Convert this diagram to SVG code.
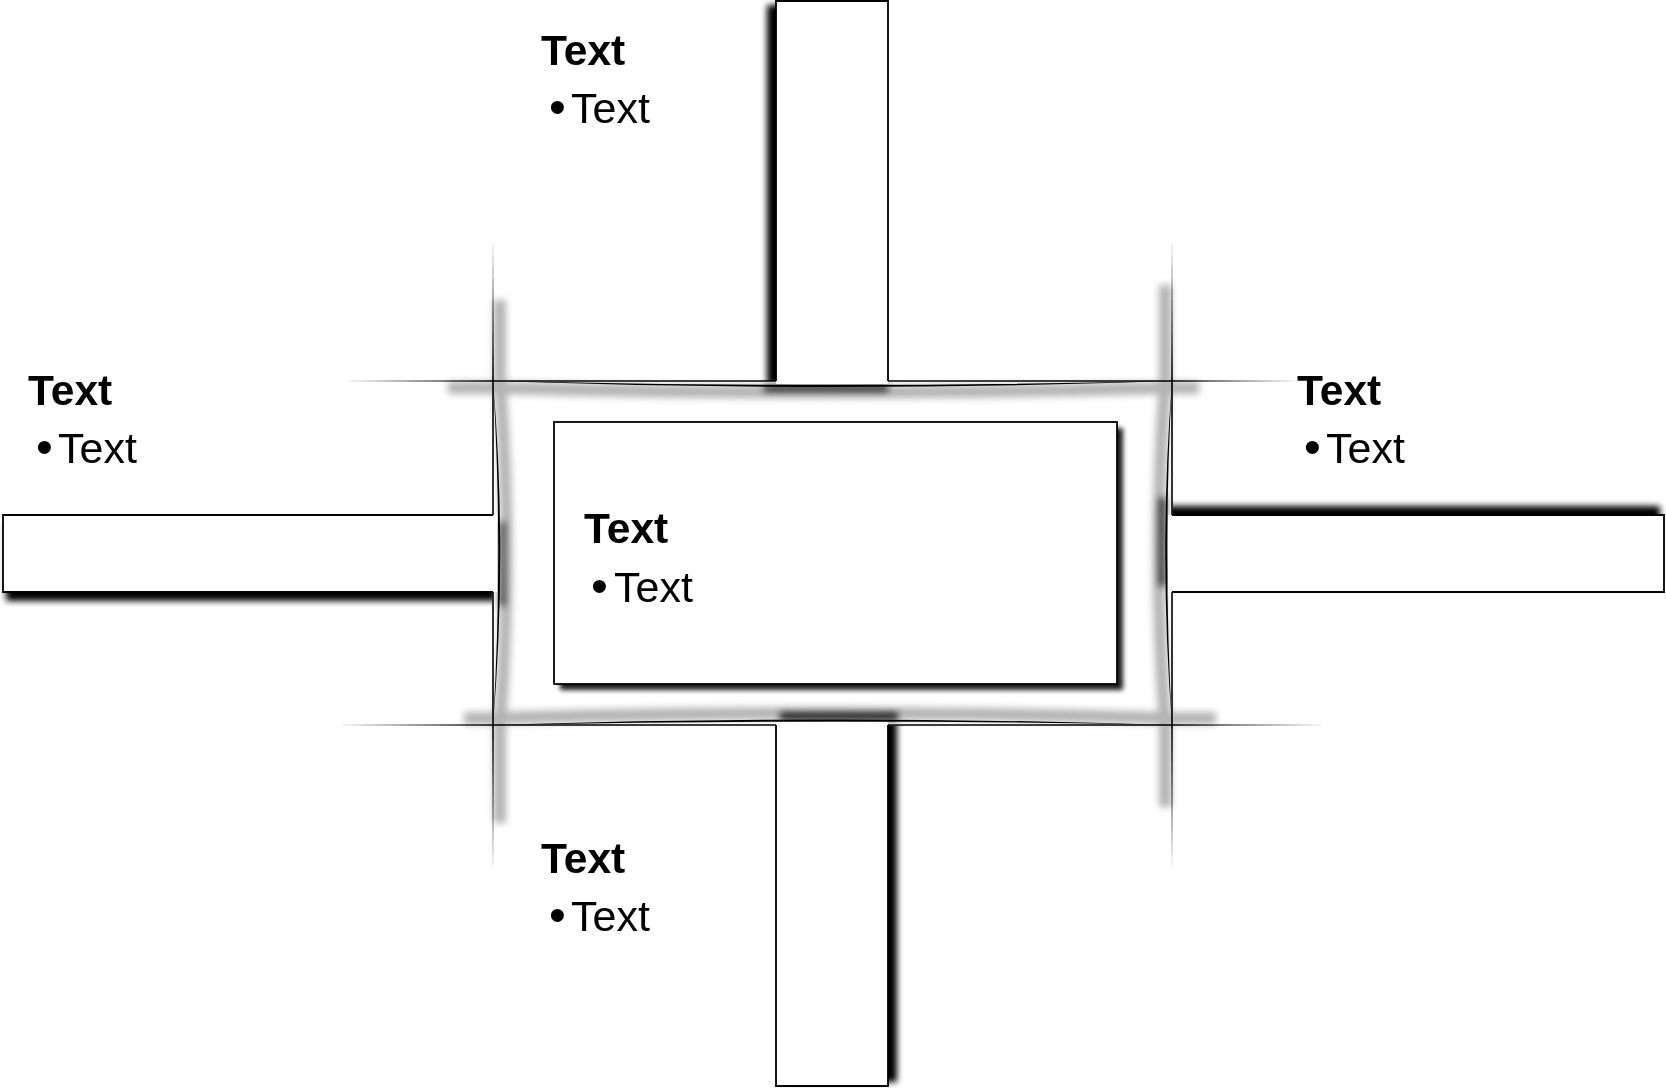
<svg xmlns="http://www.w3.org/2000/svg" width="1666" height="1088" viewBox="0 0 1666 1088">
<style>
.bar{fill:#fff;stroke:none}
.edge{fill:none;stroke:#000;stroke-width:1.8}
.ln{fill:#000}
.sh{fill:#000}
.glow{fill:none;stroke:#b4b4b4;stroke-width:16}
.h{font-family:"Liberation Sans",Arial,Helvetica,sans-serif;font-weight:bold;font-size:42.5px;fill:#000}
.t{font-family:"Liberation Sans",Arial,Helvetica,sans-serif;font-size:43px;fill:#000}
.bu{font-family:"Liberation Sans",Arial,Helvetica,sans-serif;font-size:48px;fill:#000}
</style>
<defs>
<filter id="b3" filterUnits="userSpaceOnUse" x="0" y="0" width="1666" height="1088"><feGaussianBlur stdDeviation="3.5"/></filter>
<filter id="b25" filterUnits="userSpaceOnUse" x="0" y="0" width="1666" height="1088"><feGaussianBlur stdDeviation="3"/></filter>
<filter id="b2" filterUnits="userSpaceOnUse" x="0" y="0" width="1666" height="1088"><feGaussianBlur stdDeviation="2.5"/></filter>
<clipPath id="cTop"><path d="M448,381.6 L493,381.6 Q832,390 1172,381.6 L1199,381.6 L1199,415 L448,415 Z"/></clipPath>
<clipPath id="cBot"><path d="M464,724.4 L493,724.4 Q832,714.5 1172,724.4 L1216,724.4 L1216,695 L464,695 Z"/></clipPath>
<clipPath id="cLeft"><path d="M493.6,300 L493.6,381 Q507.5,553 493.6,725 L493.6,823 L530,823 L530,300 Z"/></clipPath>
<clipPath id="cRight"><path d="M1171.4,285 L1171.4,381 Q1158.5,553 1171.4,725 L1171.4,807 L1135,807 L1135,285 Z"/></clipPath>
<clipPath id="oTop"><rect x="0" y="0" width="1666" height="381"/></clipPath>
<clipPath id="oBot"><rect x="0" y="725.6" width="1666" height="400"/></clipPath>
<clipPath id="oLeft"><rect x="0" y="0" width="492.4" height="1088"/></clipPath>
<clipPath id="oRight"><rect x="1172.6" y="0" width="500" height="1088"/></clipPath>
</defs>
<rect width="1666" height="1088" fill="#fff"/>

<g id="frame-shading">
<g filter="url(#b3)">
<path class="glow" clip-path="url(#cTop)" d="M448,386 L493,386 Q832,395 1172,386 L1199,386"/>
<path class="glow" clip-path="url(#cBot)" d="M464,720 L493,720 Q832,710 1172,720 L1216,720"/>
<path class="glow" clip-path="url(#cLeft)" d="M498,300 L498,381 Q511,553 498,725 L498,823"/>
<path class="glow" clip-path="url(#cRight)" d="M1167,285 L1167,381 Q1154,553 1167,725 L1167,807"/>
</g>
<g filter="url(#b3)">
<rect class="sh" clip-path="url(#cTop)" x="764" y="383" width="124" height="8"/>
<rect class="sh" clip-path="url(#cBot)" x="780" y="713" width="118" height="8"/>
<rect class="sh" clip-path="url(#cLeft)" x="495" y="522" width="10" height="84" opacity="0.8"/>
<rect class="sh" clip-path="url(#cRight)" x="1159" y="498" width="10" height="88" opacity="0.8"/>
</g>
</g>

<g id="frame">
<path class="ln" d="M342,381 L493,380.2 L1172,380.2 L1300,381 L1172,381.8 L493,381.8 Z"/>
<path class="ln" d="M335,725 L493,724.2 L1172,724.2 L1328,725 L1172,725.8 L493,725.8 Z"/>
<path class="ln" d="M493,239 L492.2,381 L492.2,725 L493,871 L493.8,725 L493.8,381 Z"/>
<path class="ln" d="M1172,239 L1171.2,381 L1171.2,725 L1172,871 L1172.8,725 L1172.8,381 Z"/>
</g>

<g id="node-top-bar">
<rect class="sh" filter="url(#b25)" clip-path="url(#oTop)" x="767" y="5" width="112" height="380"/>
<rect class="bar" x="776" y="1" width="112" height="383"/>
<path class="edge" d="M776,381 L776,1 L888,1 L888,381"/>
</g>
<g id="node-right-bar">
<rect class="sh" filter="url(#b25)" clip-path="url(#oRight)" x="1166" y="506" width="494" height="77"/>
<rect class="bar" x="1168" y="515" width="496" height="77"/>
<path class="edge" d="M1172,515 L1664,515 L1664,592 L1172,592"/>
</g>
<g id="node-bottom-bar">
<rect class="sh" filter="url(#b25)" clip-path="url(#oBot)" x="785" y="720" width="112" height="362"/>
<rect class="bar" x="776" y="722" width="112" height="364"/>
<path class="edge" d="M776,725 L776,1086 L888,1086 L888,725"/>
</g>
<g id="node-left-bar">
<rect class="sh" filter="url(#b25)" clip-path="url(#oLeft)" x="6" y="524" width="490" height="77"/>
<rect class="bar" x="3" y="515" width="494" height="77"/>
<path class="edge" d="M493,515 L3,515 L3,592 L493,592"/>
</g>

<g id="frame-curves">
<path class="ln" d="M493,381 Q832,389 1172,381 Q832,393 493,381 Z"/>
<path class="ln" d="M493,725 Q832,718 1172,725 Q832,714 493,725 Z"/>
<path class="ln" d="M493,381 Q503.5,553 493,725 Q507.5,553 493,381 Z"/>
<path class="ln" d="M1172,381 Q1162.5,553 1172,725 Q1158.5,553 1172,381 Z"/>
</g>

<g id="node-center">
<rect class="sh" filter="url(#b2)" x="560" y="428" width="563" height="262" opacity="0.9"/>
<rect x="554" y="422" width="563" height="262" fill="#fff" stroke="#000" stroke-width="1.8"/>
<text class="h" x="584" y="543">Text</text>
<text class="bu" x="591" y="602">•</text>
<text class="t" x="614" y="602">Text</text>
</g>

<g id="node-top">
<text class="h" x="541" y="65">Text</text>
<text class="bu" x="549" y="123">•</text>
<text class="t" x="571" y="123">Text</text>
</g>
<g id="node-left">
<text class="h" x="28" y="405">Text</text>
<text class="bu" x="36" y="463">•</text>
<text class="t" x="58" y="463">Text</text>
</g>
<g id="node-right">
<text class="h" x="1297" y="405">Text</text>
<text class="bu" x="1304" y="463">•</text>
<text class="t" x="1326" y="463">Text</text>
</g>
<g id="node-bottom">
<text class="h" x="541" y="873">Text</text>
<text class="bu" x="549" y="931">•</text>
<text class="t" x="571" y="931">Text</text>
</g>
<g id="connectors"></g>
</svg>
